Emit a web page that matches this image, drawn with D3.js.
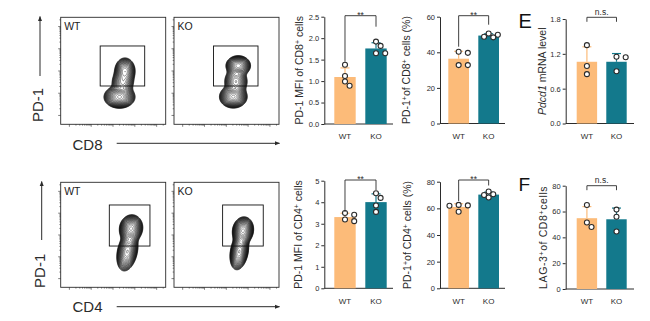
<!DOCTYPE html>
<html>
<head>
<meta charset="utf-8">
<script src="https://cdn.jsdelivr.net/npm/d3@7"></script>
<style>
  html, body { margin: 0; padding: 0; background: #fff; }
  svg { display: block; font-family: Arial, "Liberation Sans", sans-serif; }
</style>
</head>
<body>
<div id="fig"></div>
<script>
// ---- groups and per-mouse values ----
const groups = ["WT", "KO"];

const cd8MfiWT = [1.38, 1.12, 0.99, 0.89];
const cd8MfiKO = [1.92, 1.82, 1.65, 1.65];
const cd8PctWT = [39.7, 40.3, 32.8, 32.8];
const cd8PctKO = [48.7, 50.6, 48.4, 49.9];
const pdcd1WT = [1.35, 0.99, 0.85];
const pdcd1KO = [1.15, 1.14, 0.90];

const cd4MfiWT = [3.42, 3.50, 3.12, 3.20];
const cd4MfiKO = [4.42, 4.20, 3.85, 3.55];
const cd4PctWT = [62.6, 62.0, 57.5, 62.2];
const cd4PctKO = [72.6, 68.1, 70.6, 70.0];
const lag3WT = [65.0, 48.0, 51.5];
const lag3KO = [61.5, 56.0, 44.5];

// tick labels
const mfiCD8Ticks = [0, 0.5, 1.0, 1.5, 2.0, 2.5];
const pctCD8Ticks = [0, 20, 40, 60];
const pdcd1Ticks = [0, 0.6, 1.2, 1.8];
const mfiCD4Ticks = [0, 1, 2, 3, 4, 5];
const pct80Ticks = [0, 20, 40, 60, 80];

// flow populations: [x, y, sdMajor, sdMinor, angleDeg, weight] in unit plot coords
const cd8WTPops = [[0.56, 0.255, 0.056, 0.04, 0, 1.0], [0.612, 0.50, 0.04, 0.05, 0, 0.55], [0.59, 0.39, 0.045, 0.05, 0, 0.35]];
const cd8KOPops = [[0.565, 0.257, 0.05, 0.04, 0, 1.0], [0.612, 0.548, 0.045, 0.036, 0, 0.9], [0.59, 0.40, 0.045, 0.05, 0, 0.5]];
const cd4WTPops = [[0.67, 0.56, 0.05, 0.042, 78, 1.0], [0.635, 0.34, 0.075, 0.038, 78, 0.7]];
const cd4KOPops = [[0.657, 0.54, 0.05, 0.038, 80, 1.0], [0.622, 0.34, 0.07, 0.034, 80, 0.7]];
// gates: [x0, x1, y0, y1]
const cd8Gate = [0.376, 0.80, 0.358, 0.732];
const cd4Gate = [0.463, 0.85, 0.393, 0.784];

const color = { WT: "#FCBB79", KO: "#13798C" };
const ink = "#2b2b2b";

const svg = d3.select("#fig").append("svg")
  .attr("width", 650).attr("height", 321);
svg.append("rect").attr("width", 650).attr("height", 321).attr("fill", "#fff");

const defs = svg.append("defs");
defs.append("marker").attr("id", "arr")
  .attr("viewBox", "0 0 10 10").attr("refX", 9).attr("refY", 5)
  .attr("markerWidth", 5).attr("markerHeight", 5).attr("orient", "auto")
  .append("path").attr("d", "M0,1 L10,5 L0,9 Z").attr("fill", ink);

// ---------- flow contour plots ----------
function flowPanel(x0, y0, w, h, pops, gate, name) {
  const g = svg.append("g");
  const fx = d3.scaleLinear().domain([0, 1]).range([x0, x0 + w]);
  const fy = d3.scaleLinear().domain([0, 1]).range([y0 + h, y0]);

  const nx = Math.round(w), ny = Math.round(h);
  const grid = new Float64Array(nx * ny);
  for (let j = 0; j < ny; j++) {
    for (let i = 0; i < nx; i++) {
      const u = (i + 0.5) / nx, v = 1 - (j + 0.5) / ny;
      let s = 0;
      pops.forEach(([cx, cy, a, b, ang, wt]) => {
        const t = ang * Math.PI / 180;
        const dx = u - cx, dy = v - cy;
        const p = dx * Math.cos(t) + dy * Math.sin(t);
        const q = -dx * Math.sin(t) + dy * Math.cos(t);
        s += wt * Math.exp(-0.5 * (p * p / (a * a) + q * q / (b * b)));
      });
      grid[j * nx + i] = s;
    }
  }
  const max = d3.max(grid);
  const n = 22, lo = 0.03, hi = 0.94;
  const levels = d3.range(n).map(k => max * lo * Math.pow(hi / lo, k / (n - 1)));
  const contours = d3.contours().size([nx, ny]).thresholds(levels)(grid);
  const path = d3.geoPath(d3.geoIdentity().scale(w / nx).translate([x0, y0]));

  g.selectAll("path.ct").data(contours).join("path")
    .attr("class", "ct")
    .attr("d", path)
    .attr("fill", "none")
    .attr("stroke", "#000")
    .attr("stroke-opacity", (d, i) => 1 - 0.4 * i / n)
    .attr("stroke-width", 0.6);

  // frame
  g.append("rect").attr("x", x0).attr("y", y0).attr("width", w).attr("height", h)
    .attr("fill", "none").attr("stroke", ink).attr("stroke-width", 0.9);

  // log decade ticks on left and bottom edges
  const lx = d3.scaleLog().domain([4, 2.6e5]).range([x0, x0 + w]);
  const ly = d3.scaleLog().domain([4, 2.6e5]).range([y0 + h, y0]);
  const isMajor = d => Math.abs(Math.log10(d) - Math.round(Math.log10(d))) < 1e-6;
  g.selectAll("line.tx").data(lx.ticks().filter(d => d >= 10)).join("line")
    .attr("x1", d => lx(d)).attr("x2", d => lx(d))
    .attr("y1", y0 + h).attr("y2", d => y0 + h + (isMajor(d) ? 2.5 : 1.3))
    .attr("stroke", ink).attr("stroke-width", 0.6);
  g.selectAll("line.ty").data(ly.ticks().filter(d => d >= 10)).join("line")
    .attr("y1", d => ly(d)).attr("y2", d => ly(d))
    .attr("x1", x0).attr("x2", d => x0 - (isMajor(d) ? 2.5 : 1.3))
    .attr("stroke", ink).attr("stroke-width", 0.6);

  // gate
  g.append("rect")
    .attr("x", fx(gate[0])).attr("y", fy(gate[3]))
    .attr("width", fx(gate[1]) - fx(gate[0])).attr("height", fy(gate[2]) - fy(gate[3]))
    .attr("fill", "none").attr("stroke", "#111").attr("stroke-width", 0.9);

  g.append("text").attr("x", x0 + 3.5).attr("y", y0 + 12.5)
    .attr("font-size", 10.5).attr("fill", "#222").text(name);
}

flowPanel(60.7, 17.3, 105, 107, cd8WTPops, cd8Gate, "WT");
flowPanel(174, 17.3, 105, 107, cd8KOPops, cd8Gate, "KO");
flowPanel(60.7, 182.3, 105, 105, cd4WTPops, cd4Gate, "WT");
flowPanel(174, 182.3, 105, 105, cd4KOPops, cd4Gate, "KO");

// axis arrows and labels for the flow plots
function flowAxes(yArrowX, yTop, yBot, pdX, pdY, xLabel, xlY, arrowY) {
  svg.append("line").attr("x1", yArrowX).attr("x2", yArrowX)
    .attr("y1", yBot).attr("y2", yTop)
    .attr("stroke", ink).attr("stroke-width", 1).attr("marker-end", "url(#arr)");
  svg.append("text").attr("transform", `translate(${pdX},${pdY}) rotate(-90)`)
    .attr("text-anchor", "middle").attr("font-size", 15).attr("fill", ink).text("PD-1");
  svg.append("text").attr("x", 72.5).attr("y", xlY)
    .attr("font-size", 15).attr("fill", ink).text(xLabel);
  svg.append("line").attr("x1", 116.7).attr("x2", 279.5)
    .attr("y1", arrowY).attr("y2", arrowY)
    .attr("stroke", ink).attr("stroke-width", 1).attr("marker-end", "url(#arr)");
}
flowAxes(40, 16.5, 76, 43.3, 105, "CD8", 149.5, 143.3);
flowAxes(41.7, 181.5, 240, 45, 270.8, "CD4", 312, 306.7);

// ---------- bar panels ----------
const cols = [
  { axis: [324.3, 393], band: [334.3, 386.7] },
  { axis: [440, 505], band: [448.3, 499] },
  { axis: [565.7, 634], band: [576.7, 626.7] }
];

function dodge(vals, y, minD, step) {
  const order = d3.range(vals.length).sort((a, b) => vals[b] - vals[a]);
  const placed = [], off = vals.map(() => 0);
  for (const i of order) {
    const py = y(vals[i]);
    for (const k of [0, 1, -1, 2, -2]) {
      const px = k * step;
      if (placed.every(p => Math.hypot(p[0] - px, p[1] - py) >= minD)) {
        off[i] = px; placed.push([px, py]); break;
      }
    }
  }
  return off;
}

function barPanel(o) {
  const col = cols[o.col];
  const g = svg.append("g");
  const x = d3.scaleBand().domain(groups).range(col.band).paddingInner(0.31).paddingOuter(0);
  const y = d3.scaleLinear().domain([0, o.max]).range(o.yRange);
  const sets = { WT: o.wt, KO: o.ko };

  // y axis
  g.append("g").attr("transform", `translate(${col.axis[0]},0)`)
    .call(d3.axisLeft(y).tickValues(o.ticks).tickFormat(o.fmt).tickSize(3).tickSizeOuter(0).tickPadding(2))
    .call(a => a.select(".domain").attr("stroke", ink))
    .call(a => a.selectAll(".tick line").attr("stroke", ink))
    .call(a => a.selectAll("text").attr("font-size", 7.5).attr("fill", ink).attr("font-family", "Arial, 'Liberation Sans', sans-serif"));

  // x axis line and group labels
  g.append("line").attr("x1", col.axis[0]).attr("x2", col.axis[1])
    .attr("y1", y(0)).attr("y2", y(0)).attr("stroke", ink).attr("stroke-width", 1);
  g.append("g").attr("transform", `translate(0,${y(0)})`)
    .call(d3.axisBottom(x).tickSize(0).tickPadding(9.8))
    .call(a => a.select(".domain").remove())
    .call(a => a.selectAll("text").attr("font-size", 8).attr("fill", ink).attr("font-family", "Arial, 'Liberation Sans', sans-serif"));

  groups.forEach(k => {
    const vals = sets[k];
    const m = d3.mean(vals), sd = d3.deviation(vals);
    const cx = x(k) + x.bandwidth() / 2;
    g.append("rect").attr("x", x(k)).attr("width", x.bandwidth())
      .attr("y", y(m)).attr("height", y(0) - y(m)).attr("fill", color[k]);
    // upper SD whisker
    g.append("line").attr("x1", cx).attr("x2", cx).attr("y1", y(m)).attr("y2", y(m + sd))
      .attr("stroke", color[k]).attr("stroke-width", 1.2);
    g.append("line").attr("x1", cx - 4.5).attr("x2", cx + 4.5).attr("y1", y(m + sd)).attr("y2", y(m + sd))
      .attr("stroke", color[k]).attr("stroke-width", 1.2);
    const off = dodge(vals, y, 5.2, 4.6);
    g.selectAll(null).data(vals).join("circle")
      .attr("cx", (d, i) => cx + off[i]).attr("cy", d => y(d)).attr("r", 2.5)
      .attr("fill", "#fff").attr("stroke", ink).attr("stroke-width", 1.1);
  });

  // significance bracket
  const xa = x("WT") + x.bandwidth() / 2, xb = x("KO") + x.bandwidth() / 2;
  g.append("path")
    .attr("d", `M${xa},${o.br + o.legs[0]} V${o.br} H${xb} V${o.br + o.legs[1]}`)
    .attr("fill", "none").attr("stroke", ink).attr("stroke-width", 0.9);
  g.append("text").attr("x", (xa + xb) / 2).attr("y", o.sigY)
    .attr("text-anchor", "middle").attr("font-size", 8.5).attr("fill", ink).text(o.sig);

  // rotated y label
  const mid = (o.yRange[0] + o.yRange[1]) / 2;
  const t = g.append("text")
    .attr("transform", `translate(${o.labelX},${mid}) rotate(-90)`)
    .attr("text-anchor", "middle").attr("font-size", 10.5).attr("fill", ink)
    .attr("letter-spacing", o.ls || 0);
  o.label.forEach(([s, kind]) => {
    const ts = t.append("tspan").text(s);
    if (kind === "sup") ts.attr("baseline-shift", "super").attr("font-size", 7);
    if (kind === "it") ts.attr("font-style", "italic");
  });
}

const fmt1 = d3.format(".1f");
const fmt0 = d3.format("d");

barPanel({ col: 0, wt: cd8MfiWT, ko: cd8MfiKO, max: 2.5, yRange: [124, 16.7], ticks: mfiCD8Ticks, fmt: fmt1,
  br: 15.7, legs: [46, 11], sig: "**", sigY: 18, labelX: 303,
  label: [["PD-1 MFI of CD8"], ["+", "sup"], [" cells"]] });
barPanel({ col: 1, wt: cd8PctWT, ko: cd8PctKO, max: 60, yRange: [123.5, 16.7], ticks: pctCD8Ticks, fmt: fmt0,
  br: 15.7, legs: [31, 9], sig: "**", sigY: 18, labelX: 410,
  label: [["PD-1"], ["+", "sup"], ["of CD8"], ["+", "sup"], [" cells (%)"]] });
barPanel({ col: 2, wt: pdcd1WT, ko: pdcd1KO, max: 1.8, yRange: [123.5, 19], ticks: pdcd1Ticks, fmt: fmt1,
  br: 17.3, legs: [4.5, 4.5], sig: "n.s.", sigY: 14.5, labelX: 545.5,
  label: [["Pdcd1", "it"], [" mRNA level"]] });

barPanel({ col: 0, wt: cd4MfiWT, ko: cd4MfiKO, max: 5, yRange: [288.3, 180.7], ticks: mfiCD4Ticks, fmt: fmt0,
  br: 180, legs: [32, 10], sig: "**", sigY: 182.3, labelX: 302,
  label: [["PD-1 MFI of CD4"], ["+", "sup"], [" cells"]] });
barPanel({ col: 1, wt: cd4PctWT, ko: cd4PctKO, max: 80, yRange: [288.3, 181.7], ticks: pct80Ticks, fmt: fmt0,
  br: 180, legs: [21, 5.5], sig: "**", sigY: 182.3, labelX: 410.5,
  label: [["PD-1"], ["+", "sup"], ["of CD4"], ["+", "sup"], [" cells (%)"]] });
barPanel({ col: 2, wt: lag3WT, ko: lag3KO, max: 80, yRange: [289, 185.7], ticks: pct80Ticks, fmt: fmt0,
  br: 185.7, legs: [4.5, 4.5], sig: "n.s.", sigY: 182.5, labelX: 547, ls: 0.6,
  label: [["LAG-3"], ["+", "sup"], ["of CD8"], ["+", "sup"], ["cells"]] });

// panel letters
svg.append("text").attr("x", 518.5).attr("y", 28).attr("font-size", 20).attr("fill", "#111").text("E");
svg.append("text").attr("x", 518.5).attr("y", 190.5).attr("font-size", 19).attr("fill", "#111").text("F");
</script>
</body>
</html>
